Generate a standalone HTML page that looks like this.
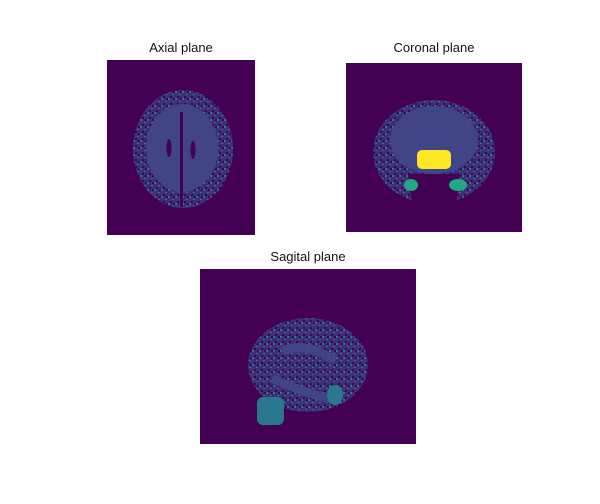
<!DOCTYPE html>
<html><head><meta charset="utf-8"><style>
body{margin:0;background:#fff;width:600px;height:499px;overflow:hidden}
text{font-family:"Liberation Sans","DejaVu Sans",sans-serif;font-size:13px;fill:#111}
</style></head><body>
<svg width="600" height="499">
<defs>
<pattern id="spk" width="7" height="7" patternUnits="userSpaceOnUse">
<rect width="7" height="7" fill="#3d2f78"/>
<rect x="0" y="0" width="2" height="2" fill="#2a788e"/>
<rect x="4" y="3" width="2" height="1" fill="#2a788e"/>
<rect x="2" y="5" width="2" height="2" fill="#440154"/>
<rect x="5" y="0" width="2" height="2" fill="#440154"/>
</pattern>
</defs>
<g>
<text x="181" y="52" text-anchor="middle">Axial plane</text>
<rect x="107" y="60" width="148" height="175" fill="#440154"/>
<ellipse cx="183" cy="149" rx="50" ry="59" fill="url(#spk)"/>
<ellipse cx="182" cy="148" rx="36" ry="44" fill="#414487"/>
<rect x="180" y="112" width="3" height="95" fill="#440154"/>
<ellipse cx="169" cy="148" rx="2.5" ry="9" fill="#440154"/>
<ellipse cx="193" cy="150" rx="2.5" ry="9" fill="#440154"/>
</g>
<g>
<text x="434" y="52" text-anchor="middle">Coronal plane</text>
<rect x="346" y="63" width="176" height="169" fill="#440154"/>
<ellipse cx="434" cy="152" rx="61" ry="52" fill="url(#spk)"/>
<ellipse cx="434" cy="140" rx="44" ry="34" fill="#414487"/>
<path d="M408 174 L460 174 L456 206 L412 206 Z" fill="#440154"/>
<rect x="417" y="150" width="34" height="19" rx="5" fill="#fde725"/>
<ellipse cx="411" cy="185" rx="7" ry="6" fill="#22a884"/>
<ellipse cx="458" cy="185" rx="9" ry="6" fill="#22a884"/>
</g>
<g>
<text x="308" y="261" text-anchor="middle">Sagital plane</text>
<rect x="200" y="269" width="216" height="175" fill="#440154"/>
<ellipse cx="308" cy="365" rx="60" ry="47" fill="url(#spk)"/>
<path d="M282 352 Q300 340 335 360" stroke="#414487" stroke-width="9" fill="none"/>
<path d="M272 378 Q300 392 335 400" stroke="#414487" stroke-width="9" fill="none"/>
<ellipse cx="335" cy="395" rx="8" ry="10" fill="#2a788e"/>
<rect x="257" y="397" width="27" height="28" rx="6" fill="#2a788e"/>
</g>
</svg>
</body></html>
